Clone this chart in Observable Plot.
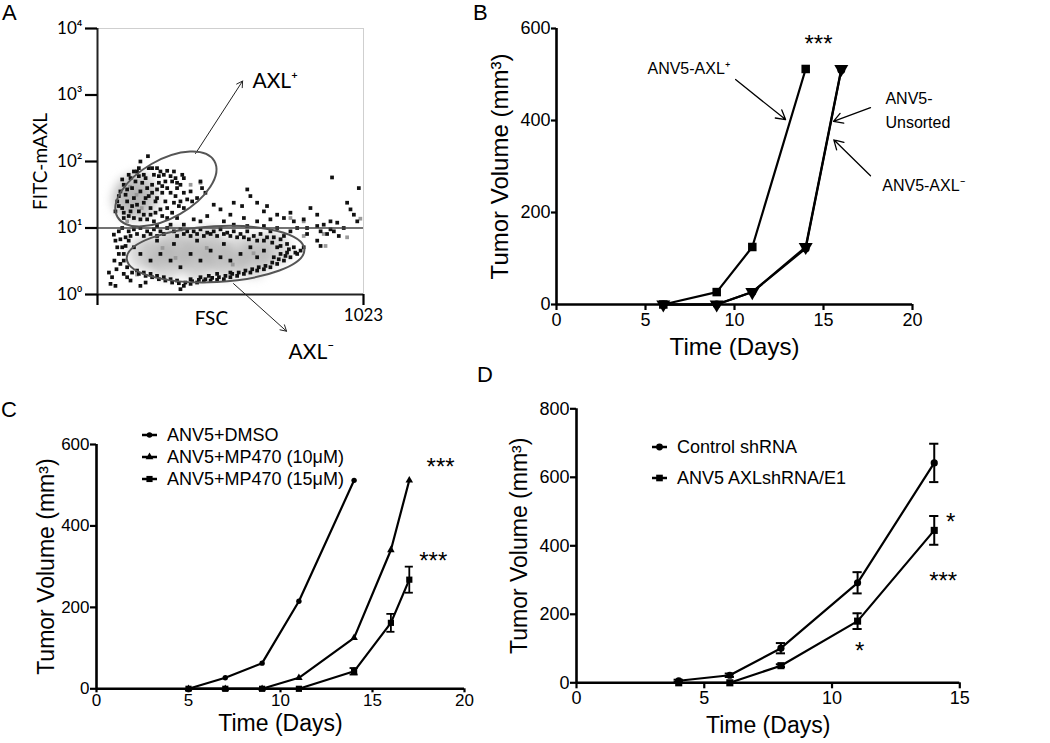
<!DOCTYPE html>
<html><head><meta charset="utf-8">
<script src="https://cdn.jsdelivr.net/npm/d3@7"></script>
<script src="https://cdn.jsdelivr.net/npm/@observablehq/plot@0.6"></script>
<style>
body{margin:0;background:#fff;}
#fig{position:relative;width:1050px;height:743px;overflow:hidden;background:#fff;font-family:"Liberation Sans",Arial,sans-serif;}
.t{position:absolute;line-height:1;white-space:nowrap;color:#000;}
</style></head><body><div id="fig"></div>
<script>
// ---------------- Panel A: flow cytometry (FSC channel, log10 FITC-mAXL) ----------------
const flowUpper = [[194,2.08],[197,1.90],[210,1.90],[229,1.90],[178,1.80],[242,1.85],[268,1.86],[294,1.85],[326,1.80],[332,1.75],[281,1.78],[287,1.70],[261,1.70],[236,1.68],[210,1.65],[249,1.63],[268,1.60],[306,1.60],[319,1.65],[281,1.53],[332,1.53],[358,1.55],[396,1.70],[402,1.60],[345,1.43],[364,1.40],[294,1.38],[313,1.33],[268,1.30],[242,1.28],[223,1.23],[249,1.18],[287,1.23],[165,2.00],[152,1.85],[127,1.75],[101,1.65],[88,1.55],[76,1.40],[69,1.25],[95,1.30],[114,1.40],[140,1.45],[165,1.55],[191,1.60],[185,1.45],[152,1.35],[127,1.25],[101,1.15],[140,1.15],[178,1.20],[204,1.30],[229,1.45],[210,1.53],[172,1.68],[133,1.60],[108,1.50],[146,1.70],[159,1.78],[185,1.75],
  [95,1.73],[120,1.80],[140,1.85],[159,1.90],[217,1.80],[236,1.78],[255,1.80],[300,1.75],[306,1.68],[229,1.58],[249,1.53],[223,1.40],[261,1.40],[300,1.48],[319,1.40],[82,1.48],[82,1.33],[101,1.23],[120,1.18],[165,1.13],[191,1.13],[217,1.10],[268,1.15],[306,1.15],[332,1.30],[383,1.45],[415,1.53],[114,1.58],[133,1.33],[197,1.48],[178,1.38],[159,1.25],[204,1.20]];
const flowMiddle = [[576,1.58],[588,1.48],[524,1.38],[556,1.33],[614,1.38],[652,1.33],[640,1.25],[691,1.20],[742,1.23],[717,1.15],[665,1.13],[614,1.10],[563,1.15],[511,1.20],[473,1.28],[447,1.35],[486,1.10],[422,1.18],[396,1.10],[370,1.13],[793,1.13],[819,1.30],[845,1.20],[870,1.05],[896,1.10],[922,1.08],[960,1.38],[973,1.28],[986,1.20],[999,1.10],[1005,1.60],[902,1.76],[858,0.95],[883,0.91],[909,0.95],[928,0.88],[947,1.00],[845,0.81],[858,0.73],[768,1.00],[742,0.95],[806,0.91],[755,1.10],
  [229,1.03],[281,1.05],[332,1.05],[524,1.05],[576,1.03],[640,1.03],[691,1.00],[806,1.00],[845,1.03],[896,0.98]];
const flowLower = [[63,0.90],[69,0.81],[76,0.71],[82,0.61],[65,0.51],[88,0.46],[73,0.38],[44,0.33],[56,0.26],[50,0.16],[69,0.13],[101,0.31],[114,0.26],[127,0.21],[95,0.71],[108,0.86],[120,0.95],[140,0.98],[165,1.00],[191,0.95],[217,0.98],[242,0.95],[268,1.00],[294,0.95],[319,0.98],[345,0.95],[370,0.95],[396,0.98],[422,0.93],[447,0.95],[473,0.98],[499,0.93],[524,0.95],[550,0.91],[576,0.95],[601,0.88],[627,0.91],[652,0.86],[678,0.86],[704,0.83],[729,0.76],[755,0.71],[781,0.66],[742,0.56],[717,0.51],[691,0.46],[665,0.41],[640,0.38],[614,0.36],[588,0.33],[563,0.31],[537,0.28],[511,0.26],[486,0.23],[460,0.22],[435,0.21],[409,0.20],[383,0.18],[358,0.16],[332,0.13],[319,0.08],[306,0.21],[281,0.23],[255,0.26],[229,0.28],[204,0.31],[178,0.33],[152,0.36],[165,0.13],[185,0.18],[358,0.23],[396,0.26],[428,0.28],[460,0.31],[511,0.33],[678,0.56],[704,0.61],[729,0.63],[768,0.61],[793,0.71],[691,0.71],[640,0.66],[614,0.56],[588,0.71],[550,0.61],[511,0.51],[473,0.56],[435,0.66],[396,0.51],[358,0.61],[319,0.41],[281,0.51],[242,0.61],[204,0.51],[165,0.61],[140,0.71],[229,0.81],[294,0.76],[383,0.81],[486,0.76],[563,0.86],[665,0.95],[717,0.88],
  [127,0.88],[152,0.91],[178,0.88],[204,0.91],[229,0.88],[255,0.91],[306,0.88],[332,0.91],[358,0.88],[383,0.91],[409,0.88],[435,0.91],[460,0.88],[486,0.91],[511,0.88],[537,0.86],[582,0.83],[614,0.81],[640,0.81],[672,0.78],[704,0.73],[736,0.68],[761,0.63],[723,0.58],[697,0.53],[672,0.48],[646,0.43],[620,0.41],[595,0.38],[569,0.36],[543,0.33],[518,0.31],[492,0.28],[467,0.26],[441,0.25],[415,0.23],[390,0.22],[364,0.20],[338,0.18],[313,0.17],[287,0.18],[261,0.21],[236,0.23],[210,0.26],[185,0.28],[159,0.31],[133,0.33],[114,0.41],[101,0.51],[101,0.61],[108,0.73],[120,0.81],[88,0.83],[82,0.95],[95,1.00]];
const flowGreySpecks = [[793,0.88],[960,0.86],[1011,1.14],[396,1.68],[358,1.65],[877,0.73],[870,0.91],[793,1.10],[742,1.15],[152,0.30],[114,1.10],[300,0.55],[420,0.70],[520,0.45],[250,0.70],[600,0.62],[150,1.50],[125,1.62],[170,1.30]];
const flowGreyCores = [[229,0.61],[306,0.63],[383,0.61],[460,0.61],[537,0.63],[614,0.66],[678,0.68],[268,0.47],[383,0.45],[500,0.47],[600,0.50],[300,0.78],[420,0.78],[180,0.62],[130,1.55],[160,1.60],[140,1.35],[175,1.42],[115,1.42]];
const gatesA = [
  {fsc:265, logFitc:1.58, rFsc:215, rLog:0.433, angle:-30},
  {fsc:456, logFitc:0.60, rFsc:342, rLog:0.42, angle:-3}
];
const arrowsA = [{x1:377,y1:2.12,x2:558,y2:3.21},{x1:523,y1:0.164,x2:727,y2:-0.552}];
const labelsA = [{x:596,y:3.20,text:"AXL⁺"},{x:735,y:-0.866,text:"AXL⁻"}];
const ticksA = [1,10,100,1000,10000];
const supers = ["⁰","¹","²","³","⁴"];

// ---------------- Panel B ----------------
const daysBpos = [6,9,11,14], volBpos = [0,27,125,512];
const daysBneg = [6,9,11,14,16], volBneg = [0,0,27,125,512];
const daysBuns = [6,9,11,14,16], volBuns = [0,0,27,122,510];
const notesB = [{x:5.11,y:513,text:"ANV5-AXL⁺"},{x:18.48,y:447,text:"ANV5-"},{x:18.48,y:395,text:"Unsorted"},{x:18.3,y:258,text:"ANV5-AXL⁻"}];
const arrowsB = [{x1:10.06,y1:489,x2:12.87,y2:402},{x1:17.64,y1:428,x2:15.56,y2:398},{x1:17.64,y1:280,x2:15.58,y2:358}];
const starsB = [{x:14.72,y:565,text:"***"}];

// ---------------- Panel C ----------------
const daysCdmso = [5,7,9,11,14], volCdmso = [0,27,63,215,512];
const daysC10 = [5,7,9,11,14,16,17], volC10 = [0,0,0,27,125,341,512];
const daysC15 = [5,7,9,11,14,16,17], volC15 = [0,0,0,0,43,162,268], errC15 = [0,0,0,0,8,22,32];
const starsC = [{x:18.7,y:545,text:"***"},{x:18.3,y:314,text:"***"}];
const legendC = ["ANV5+DMSO","ANV5+MP470 (10μM)","ANV5+MP470 (15μM)"];

// ---------------- Panel D ----------------
const daysDctl = [4,6,8,11,14], volDctl = [6,22,101,292,642], errDctl = [3,5,15,31,56];
const daysDsh = [4,6,8,11,14], volDsh = [0,0,50,180,445], errDsh = [0,0,4,23,42];
const starsD = [{x:14.64,y:470,text:"*"},{x:14.35,y:296,text:"***"},{x:11.08,y:91,text:"*"}];
const legendD = ["Control shRNA","ANV5 AXLshRNA/E1"];

// ---------------- helpers ----------------
const fig = document.getElementById("fig");
const zip = (xs, ys, es) => xs.map((x,i) => ({x, y: ys[i], e: es ? es[i] : 0}));
function place(node, left, top){
  node.style.position="absolute"; node.style.left=left+"px"; node.style.top=top+"px"; fig.appendChild(node);
  d3.select(node).selectAll('g[aria-label="x-axis tick"], g[aria-label="y-axis tick"]').attr("stroke-width", 2.2);
  return node;
}
const baseStyle = {background:"transparent", fontFamily:"'Liberation Sans', Arial, sans-serif", fontSize:"17px", color:"#000", overflow:"visible"};
const centered = {textAnchor:"middle", lineAnchor:"middle"};
function text(str, left, capTop, size){
  const d = document.createElement("div"); d.className="t"; d.textContent=str;
  d.style.fontSize=size+"px"; d.style.left=left+"px"; d.style.top=(capTop - 0.13*size)+"px";
  fig.appendChild(d); return d;
}
function legend(labels, symbols, sizes, lineLeft, textLeft, ys, fs){
  labels.forEach((lab,i) => {
    const y = ys[i];
    const s = d3.select(fig).append("svg").style("position","absolute").style("left",lineLeft+"px").style("top",(y-8)+"px").attr("width",20).attr("height",16);
    s.append("line").attr("x1",1).attr("x2",16).attr("y1",8).attr("y2",8).attr("stroke","#000").attr("stroke-width",2.5);
    s.append("path").attr("d", d3.symbol(symbols[i], sizes[i])()).attr("transform","translate(8.5,8)").attr("fill","#000");
    const d = document.createElement("div"); d.className="t"; d.textContent=lab;
    d.style.fontSize=fs+"px"; d.style.left=textLeft+"px"; d.style.top=(y-0.49*fs)+"px"; fig.appendChild(d);
  });
}
function errorMarks(data, halfCap, sw){
  const withErr = data.filter(d => d.e > 0);
  return [
    Plot.ruleX(withErr, {x:"x", y1:d=>d.y-d.e, y2:d=>d.y+d.e, strokeWidth:sw}),
    Plot.ruleY(withErr, {x1:d=>d.x-halfCap, x2:d=>d.x+halfCap, y:d=>d.y-d.e, strokeWidth:sw}),
    Plot.ruleY(withErr, {x1:d=>d.x-halfCap, x2:d=>d.x+halfCap, y:d=>d.y+d.e, strokeWidth:sw})
  ];
}

// ---------------- Panel A plot ----------------
const pxy = {x:d=>d[0], y:d=>10**d[1]};
const plotA = Plot.plot({
  width:420, height:370, marginLeft:97, marginRight:57, marginTop:28, marginBottom:76,
  style:{...baseStyle, fontFamily:"Lato, 'Open Sans', sans-serif"},
  x:{domain:[0,1023]}, y:{type:"log", domain:[1,10000]},
  marks:[
    Plot.ruleY([10000], {stroke:"#cfcfcf", strokeWidth:1}),
    Plot.ruleX([1023], {stroke:"#cfcfcf", strokeWidth:1}),
    Plot.dot(flowGreyCores, {...pxy, r:17, fill:"#b4b4b4", fillOpacity:0.5, stroke:null}),
    Plot.dot(flowGreySpecks, {...pxy, symbol:"square", r:2.1, fill:"#9a9a9a"}),
    Plot.dot(flowUpper, {...pxy, symbol:"square", r:2.1, fill:"#111"}),
    Plot.dot(flowMiddle, {...pxy, symbol:"square", r:2.1, fill:"#111"}),
    Plot.dot(flowLower, {...pxy, symbol:"square", r:2.1, fill:"#111"}),
    Plot.ruleY([10], {stroke:"#444", strokeWidth:1.6}),
    Plot.ruleY([1], {stroke:"#222", strokeWidth:2}),
    Plot.ruleX([0], {stroke:"#222", strokeWidth:2}),
    Plot.axisY({ticks:ticksA, tickSize:12, tickPadding:3, label:null, fontSize:17,
      tickFormat:d => "10" + supers[Math.round(Math.log10(d))]}),
    Plot.axisX({ticks:[0,1023], tickSize:11, tickPadding:3, label:null, fontSize:17,
      tickFormat:d => d === 1023 ? "1023" : ""}),
    Plot.text(["FITC-mAXL"], {frameAnchor:"left", rotate:-90, dx:-57, fontSize:19, text:d=>d, ...centered}),
    Plot.text([{x:438, y:-0.366}], {x:"x", y:d=>10**d.y, text:()=>"FSC", fontSize:19, ...centered}),
    Plot.arrow(arrowsA, {x1:"x1", y1:d=>10**d.y1, x2:"x2", y2:d=>10**d.y2, strokeWidth:1, headLength:10, stroke:"#222"}),
    Plot.text(labelsA, {x:"x", y:d=>10**d.y, text:"text", textAnchor:"start", lineAnchor:"middle", fontSize:21})
  ]
});
place(plotA, 0, 0);
d3.select(plotA).selectAll('g[aria-label="dot"]').filter((d,i) => i === 0).style("filter","blur(4px)");
{
  const sx = plotA.scale("x"), sy = plotA.scale("y");
  gatesA.forEach(g => {
    const cx = sx.apply(g.fsc), cy = sy.apply(10**g.logFitc);
    const rx = Math.abs(sx.apply(g.fsc + g.rFsc) - cx);
    const ry = Math.abs(cy - sy.apply(10**(g.logFitc + g.rLog)));
    d3.select(plotA).append("ellipse").attr("cx",cx).attr("cy",cy).attr("rx",rx).attr("ry",ry)
      .attr("fill","none").attr("stroke","#555").attr("stroke-width",2)
      .attr("transform",`rotate(${g.angle} ${cx} ${cy})`);
  });
}

// ---------------- Panel B plot ----------------
const bPos = zip(daysBpos, volBpos), bNeg = zip(daysBneg, volBneg), bUns = zip(daysBuns, volBuns);
const plotB = Plot.plot({
  width:610, height:370, marginLeft:116, marginRight:138, marginTop:28, marginBottom:66,
  style:baseStyle,
  x:{domain:[0,20]}, y:{domain:[0,600]},
  marks:[
    Plot.axisX({ticks:[0,5,10,15,20], tickSize:6, tickPadding:3, label:null, fontSize:18}),
    Plot.axisY({ticks:[0,200,400,600], tickSize:5, tickPadding:1, label:null, fontSize:18}),
    Plot.ruleY([0], {strokeWidth:2.6}),
    Plot.ruleX([0], {strokeWidth:2.6}),
    Plot.line(bUns, {x:"x", y:"y", strokeWidth:2.2}),
    Plot.line(bNeg, {x:"x", y:"y", strokeWidth:2.2}),
    Plot.line(bPos, {x:"x", y:"y", strokeWidth:2.2}),
    Plot.dot(bUns, {x:"x", y:"y", r:4, fill:"#000"}),
    Plot.dot(bNeg, {x:"x", y:"y", symbol:"triangle", rotate:180, r:5.2, fill:"#000"}),
    Plot.dot(bPos, {x:"x", y:"y", symbol:"square", r:4.8, fill:"#000"}),
    Plot.text(["Time (Days)"], {frameAnchor:"bottom", dy:43, fontSize:24, text:d=>d, ...centered}),
    Plot.text(["Tumor Volume (mm³)"], {frameAnchor:"left", rotate:-90, dx:-56, fontSize:24, text:d=>d, ...centered}),
    Plot.text(notesB, {x:"x", y:"y", text:"text", textAnchor:"start", lineAnchor:"middle", fontSize:16}),
    Plot.arrow(arrowsB, {x1:"x1", y1:"y1", x2:"x2", y2:"y2", strokeWidth:1.3, headLength:12}),
    Plot.text(starsB, {x:"x", y:"y", text:"text", fontSize:24, ...centered})
  ]
});
place(plotB, 440, 0);

// ---------------- Panel C plot ----------------
const cD = zip(daysCdmso, volCdmso), c10 = zip(daysC10, volC10), c15 = zip(daysC15, volC15, errC15);
const plotC = Plot.plot({
  width:520, height:373, marginLeft:96, marginRight:56, marginTop:74, marginBottom:54.7,
  style:baseStyle,
  x:{domain:[0,20]}, y:{domain:[0,600]},
  marks:[
    Plot.axisX({ticks:[0,5,10,15,20], tickSize:4, tickPadding:1, label:null, fontSize:17}),
    Plot.axisY({ticks:[0,200,400,600], tickSize:6, tickPadding:1, label:null, fontSize:17}),
    Plot.ruleY([0], {strokeWidth:2.6}),
    Plot.ruleX([0], {strokeWidth:2.6}),
    ...errorMarks(c15, 0.22, 1.8),
    Plot.line(c15, {x:"x", y:"y", strokeWidth:2.2}),
    Plot.line(c10, {x:"x", y:"y", strokeWidth:2.2}),
    Plot.line(cD, {x:"x", y:"y", strokeWidth:2.2}),
    Plot.dot(c15, {x:"x", y:"y", symbol:"square", r:3.5, fill:"#000"}),
    Plot.dot(c10, {x:"x", y:"y", symbol:"triangle", r:2.8, fill:"#000"}),
    Plot.dot(cD, {x:"x", y:"y", r:2.7, fill:"#000"}),
    Plot.text(["Time (Days)"], {frameAnchor:"bottom", dy:35, fontSize:23, text:d=>d, ...centered}),
    Plot.text(["Tumor Volume (mm³)"], {frameAnchor:"left", rotate:-90, dx:-49.5, fontSize:23, text:d=>d, ...centered}),
    Plot.text(starsC, {x:"x", y:"y", text:"text", fontSize:24, ...centered})
  ]
});
place(plotC, 0, 370);
legend(legendC, [d3.symbolCircle, d3.symbolTriangle, d3.symbolSquare], [24, 26, 38], 141, 167, [435, 457, 479], 18);

// ---------------- Panel D plot ----------------
const dC = zip(daysDctl, volDctl, errDctl), dS = zip(daysDsh, volDsh, errDsh);
const plotD = Plot.plot({
  width:560, height:373, marginLeft:86, marginRight:90.7, marginTop:38.3, marginBottom:60.7,
  style:baseStyle,
  x:{domain:[0,15]}, y:{domain:[0,800]},
  marks:[
    Plot.axisX({ticks:[0,5,10,15], tickSize:6, tickPadding:2, label:null, fontSize:18}),
    Plot.axisY({ticks:[0,200,400,600,800], tickSize:6, tickPadding:1, label:null, fontSize:18}),
    Plot.ruleY([0], {strokeWidth:2.6}),
    Plot.ruleX([0], {strokeWidth:2.6}),
    ...errorMarks(dC, 0.18, 2),
    ...errorMarks(dS, 0.18, 2),
    Plot.line(dC, {x:"x", y:"y", strokeWidth:2.2}),
    Plot.line(dS, {x:"x", y:"y", strokeWidth:2.2}),
    Plot.dot(dC, {x:"x", y:"y", r:3.6, fill:"#000"}),
    Plot.dot(dS, {x:"x", y:"y", symbol:"square", r:4, fill:"#000"}),
    Plot.text(["Time (Days)"], {frameAnchor:"bottom", dy:42.5, fontSize:23, text:d=>d, ...centered}),
    Plot.text(["Tumor Volume (mm³)"], {frameAnchor:"left", rotate:-90, dx:-57, fontSize:23, text:d=>d, ...centered}),
    Plot.text(starsD, {x:"x", y:"y", text:"text", fontSize:24, ...centered})
  ]
});
place(plotD, 490, 370);
legend(legendD, [d3.symbolCircle, d3.symbolSquare], [36, 44], 651, 677, [447, 478], 18);

// ---------------- panel letters ----------------
text("A", 2, 5, 22);
text("B", 473, 5, 22);
text("C", 1, 402, 22);
text("D", 477, 367, 22);
</script></body></html>
